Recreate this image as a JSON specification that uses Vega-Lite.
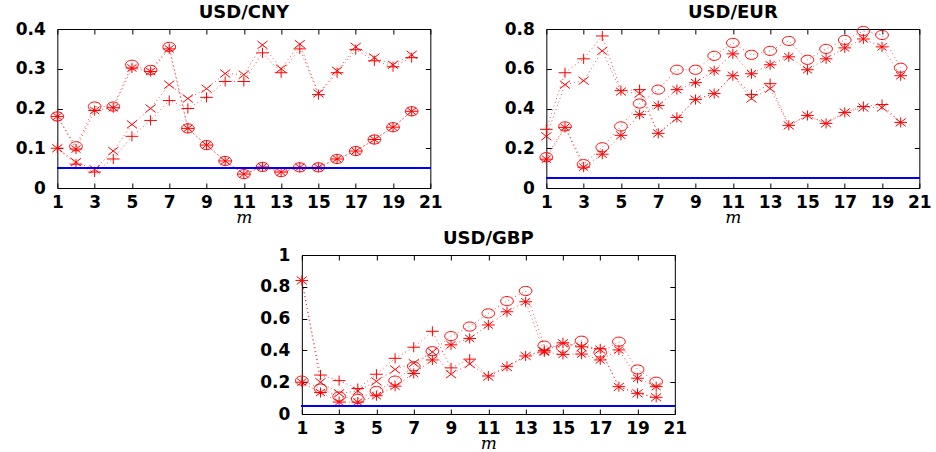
{
"$schema":"https://vega.github.io/schema/vega-lite/v6.json",
"background":"white",
"padding":{"left":14,"top":3,"right":0,"bottom":0},
"data":{"values":[
{"p":"CNY","s":"o","m":1,"v":0.18},{"p":"CNY","s":"o","m":2,"v":0.105},{"p":"CNY","s":"o","m":3,"v":0.205},{"p":"CNY","s":"o","m":4,"v":0.205},{"p":"CNY","s":"o","m":5,"v":0.31},{"p":"CNY","s":"o","m":6,"v":0.297},{"p":"CNY","s":"o","m":7,"v":0.355},{"p":"CNY","s":"o","m":8,"v":0.15},{"p":"CNY","s":"o","m":9,"v":0.108},{"p":"CNY","s":"o","m":10,"v":0.068},{"p":"CNY","s":"o","m":11,"v":0.035},{"p":"CNY","s":"o","m":12,"v":0.053},{"p":"CNY","s":"o","m":13,"v":0.04},{"p":"CNY","s":"o","m":14,"v":0.052},{"p":"CNY","s":"o","m":15,"v":0.052},{"p":"CNY","s":"o","m":16,"v":0.073},{"p":"CNY","s":"o","m":17,"v":0.093},{"p":"CNY","s":"o","m":18,"v":0.122},{"p":"CNY","s":"o","m":19,"v":0.153},{"p":"CNY","s":"o","m":20,"v":0.193},
{"p":"CNY","s":"ast","m":1,"v":0.18},{"p":"CNY","s":"ast","m":2,"v":0.098},{"p":"CNY","s":"ast","m":3,"v":0.195},{"p":"CNY","s":"ast","m":4,"v":0.202},{"p":"CNY","s":"ast","m":5,"v":0.302},{"p":"CNY","s":"ast","m":6,"v":0.293},{"p":"CNY","s":"ast","m":7,"v":0.35},{"p":"CNY","s":"ast","m":8,"v":0.15},{"p":"CNY","s":"ast","m":9,"v":0.108},{"p":"CNY","s":"ast","m":10,"v":0.068},{"p":"CNY","s":"ast","m":11,"v":0.035},{"p":"CNY","s":"ast","m":12,"v":0.053},{"p":"CNY","s":"ast","m":13,"v":0.04},{"p":"CNY","s":"ast","m":14,"v":0.052},{"p":"CNY","s":"ast","m":15,"v":0.052},{"p":"CNY","s":"ast","m":16,"v":0.073},{"p":"CNY","s":"ast","m":17,"v":0.093},{"p":"CNY","s":"ast","m":18,"v":0.122},{"p":"CNY","s":"ast","m":19,"v":0.153},{"p":"CNY","s":"ast","m":20,"v":0.193},
{"p":"CNY","s":"x","m":1,"v":0.1},{"p":"CNY","s":"x","m":2,"v":0.065},{"p":"CNY","s":"x","m":3,"v":0.047},{"p":"CNY","s":"x","m":4,"v":0.093},{"p":"CNY","s":"x","m":5,"v":0.16},{"p":"CNY","s":"x","m":6,"v":0.2},{"p":"CNY","s":"x","m":7,"v":0.26},{"p":"CNY","s":"x","m":8,"v":0.225},{"p":"CNY","s":"x","m":9,"v":0.25},{"p":"CNY","s":"x","m":10,"v":0.288},{"p":"CNY","s":"x","m":11,"v":0.285},{"p":"CNY","s":"x","m":12,"v":0.36},{"p":"CNY","s":"x","m":13,"v":0.3},{"p":"CNY","s":"x","m":14,"v":0.362},{"p":"CNY","s":"x","m":15,"v":0.238},{"p":"CNY","s":"x","m":16,"v":0.295},{"p":"CNY","s":"x","m":17,"v":0.355},{"p":"CNY","s":"x","m":18,"v":0.328},{"p":"CNY","s":"x","m":19,"v":0.31},{"p":"CNY","s":"x","m":20,"v":0.335},
{"p":"CNY","s":"plus","m":1,"v":0.1},{"p":"CNY","s":"plus","m":2,"v":0.06},{"p":"CNY","s":"plus","m":3,"v":0.04},{"p":"CNY","s":"plus","m":4,"v":0.073},{"p":"CNY","s":"plus","m":5,"v":0.13},{"p":"CNY","s":"plus","m":6,"v":0.17},{"p":"CNY","s":"plus","m":7,"v":0.22},{"p":"CNY","s":"plus","m":8,"v":0.2},{"p":"CNY","s":"plus","m":9,"v":0.228},{"p":"CNY","s":"plus","m":10,"v":0.268},{"p":"CNY","s":"plus","m":11,"v":0.268},{"p":"CNY","s":"plus","m":12,"v":0.34},{"p":"CNY","s":"plus","m":13,"v":0.29},{"p":"CNY","s":"plus","m":14,"v":0.35},{"p":"CNY","s":"plus","m":15,"v":0.235},{"p":"CNY","s":"plus","m":16,"v":0.29},{"p":"CNY","s":"plus","m":17,"v":0.348},{"p":"CNY","s":"plus","m":18,"v":0.32},{"p":"CNY","s":"plus","m":19,"v":0.305},{"p":"CNY","s":"plus","m":20,"v":0.328},
{"p":"EUR","s":"o","m":1,"v":0.155},{"p":"EUR","s":"o","m":2,"v":0.31},{"p":"EUR","s":"o","m":3,"v":0.12},{"p":"EUR","s":"o","m":4,"v":0.205},{"p":"EUR","s":"o","m":5,"v":0.31},{"p":"EUR","s":"o","m":6,"v":0.425},{"p":"EUR","s":"o","m":7,"v":0.495},{"p":"EUR","s":"o","m":8,"v":0.595},{"p":"EUR","s":"o","m":9,"v":0.595},{"p":"EUR","s":"o","m":10,"v":0.665},{"p":"EUR","s":"o","m":11,"v":0.73},{"p":"EUR","s":"o","m":12,"v":0.67},{"p":"EUR","s":"o","m":13,"v":0.69},{"p":"EUR","s":"o","m":14,"v":0.74},{"p":"EUR","s":"o","m":15,"v":0.645},{"p":"EUR","s":"o","m":16,"v":0.7},{"p":"EUR","s":"o","m":17,"v":0.745},{"p":"EUR","s":"o","m":18,"v":0.79},{"p":"EUR","s":"o","m":19,"v":0.77},{"p":"EUR","s":"o","m":20,"v":0.605},
{"p":"EUR","s":"ast","m":1,"v":0.145},{"p":"EUR","s":"ast","m":2,"v":0.305},{"p":"EUR","s":"ast","m":3,"v":0.105},{"p":"EUR","s":"ast","m":4,"v":0.17},{"p":"EUR","s":"ast","m":5,"v":0.265},{"p":"EUR","s":"ast","m":6,"v":0.37},{"p":"EUR","s":"ast","m":7,"v":0.415},{"p":"EUR","s":"ast","m":8,"v":0.495},{"p":"EUR","s":"ast","m":9,"v":0.53},{"p":"EUR","s":"ast","m":10,"v":0.59},{"p":"EUR","s":"ast","m":11,"v":0.675},{"p":"EUR","s":"ast","m":12,"v":0.575},{"p":"EUR","s":"ast","m":13,"v":0.62},{"p":"EUR","s":"ast","m":14,"v":0.66},{"p":"EUR","s":"ast","m":15,"v":0.595},{"p":"EUR","s":"ast","m":16,"v":0.65},{"p":"EUR","s":"ast","m":17,"v":0.705},{"p":"EUR","s":"ast","m":18,"v":0.75},{"p":"EUR","s":"ast","m":19,"v":0.71},{"p":"EUR","s":"ast","m":20,"v":0.565},
{"p":"EUR","s":"x","m":1,"v":0.26},{"p":"EUR","s":"x","m":2,"v":0.52},{"p":"EUR","s":"x","m":3,"v":0.54},{"p":"EUR","s":"x","m":4,"v":0.69},{"p":"EUR","s":"x","m":5,"v":0.485},{"p":"EUR","s":"x","m":6,"v":0.475},{"p":"EUR","s":"x","m":7,"v":0.275},{"p":"EUR","s":"x","m":8,"v":0.35},{"p":"EUR","s":"x","m":9,"v":0.445},{"p":"EUR","s":"x","m":10,"v":0.475},{"p":"EUR","s":"x","m":11,"v":0.565},{"p":"EUR","s":"x","m":12,"v":0.45},{"p":"EUR","s":"x","m":13,"v":0.5},{"p":"EUR","s":"x","m":14,"v":0.315},{"p":"EUR","s":"x","m":15,"v":0.365},{"p":"EUR","s":"x","m":16,"v":0.325},{"p":"EUR","s":"x","m":17,"v":0.38},{"p":"EUR","s":"x","m":18,"v":0.405},{"p":"EUR","s":"x","m":19,"v":0.405},{"p":"EUR","s":"x","m":20,"v":0.33},
{"p":"EUR","s":"plus","m":1,"v":0.295},{"p":"EUR","s":"plus","m":2,"v":0.58},{"p":"EUR","s":"plus","m":3,"v":0.65},{"p":"EUR","s":"plus","m":4,"v":0.765},{"p":"EUR","s":"plus","m":5,"v":0.49},{"p":"EUR","s":"plus","m":6,"v":0.495},{"p":"EUR","s":"plus","m":7,"v":0.275},{"p":"EUR","s":"plus","m":8,"v":0.355},{"p":"EUR","s":"plus","m":9,"v":0.445},{"p":"EUR","s":"plus","m":10,"v":0.475},{"p":"EUR","s":"plus","m":11,"v":0.565},{"p":"EUR","s":"plus","m":12,"v":0.47},{"p":"EUR","s":"plus","m":13,"v":0.525},{"p":"EUR","s":"plus","m":14,"v":0.315},{"p":"EUR","s":"plus","m":15,"v":0.365},{"p":"EUR","s":"plus","m":16,"v":0.325},{"p":"EUR","s":"plus","m":17,"v":0.38},{"p":"EUR","s":"plus","m":18,"v":0.41},{"p":"EUR","s":"plus","m":19,"v":0.42},{"p":"EUR","s":"plus","m":20,"v":0.33},
{"p":"GBP","s":"o","m":1,"v":0.21},{"p":"GBP","s":"o","m":2,"v":0.16},{"p":"GBP","s":"o","m":3,"v":0.11},{"p":"GBP","s":"o","m":4,"v":0.095},{"p":"GBP","s":"o","m":5,"v":0.145},{"p":"GBP","s":"o","m":6,"v":0.21},{"p":"GBP","s":"o","m":7,"v":0.3},{"p":"GBP","s":"o","m":8,"v":0.395},{"p":"GBP","s":"o","m":9,"v":0.49},{"p":"GBP","s":"o","m":10,"v":0.55},{"p":"GBP","s":"o","m":11,"v":0.633},{"p":"GBP","s":"o","m":12,"v":0.71},{"p":"GBP","s":"o","m":13,"v":0.774},{"p":"GBP","s":"o","m":14,"v":0.43},{"p":"GBP","s":"o","m":15,"v":0.417},{"p":"GBP","s":"o","m":16,"v":0.461},{"p":"GBP","s":"o","m":17,"v":0.386},{"p":"GBP","s":"o","m":18,"v":0.455},{"p":"GBP","s":"o","m":19,"v":0.28},{"p":"GBP","s":"o","m":20,"v":0.203},
{"p":"GBP","s":"ast","m":1,"v":0.2},{"p":"GBP","s":"ast","m":2,"v":0.135},{"p":"GBP","s":"ast","m":3,"v":0.075},{"p":"GBP","s":"ast","m":4,"v":0.075},{"p":"GBP","s":"ast","m":5,"v":0.115},{"p":"GBP","s":"ast","m":6,"v":0.175},{"p":"GBP","s":"ast","m":7,"v":0.255},{"p":"GBP","s":"ast","m":8,"v":0.34},{"p":"GBP","s":"ast","m":9,"v":0.435},{"p":"GBP","s":"ast","m":10,"v":0.475},{"p":"GBP","s":"ast","m":11,"v":0.56},{"p":"GBP","s":"ast","m":12,"v":0.643},{"p":"GBP","s":"ast","m":13,"v":0.706},{"p":"GBP","s":"ast","m":14,"v":0.39},{"p":"GBP","s":"ast","m":15,"v":0.375},{"p":"GBP","s":"ast","m":16,"v":0.377},{"p":"GBP","s":"ast","m":17,"v":0.34},{"p":"GBP","s":"ast","m":18,"v":0.403},{"p":"GBP","s":"ast","m":19,"v":0.225},{"p":"GBP","s":"ast","m":20,"v":0.172},
{"p":"GBP","s":"x","m":1,"v":0.84},{"p":"GBP","s":"x","m":2,"v":0.2},{"p":"GBP","s":"x","m":3,"v":0.13},{"p":"GBP","s":"x","m":4,"v":0.145},{"p":"GBP","s":"x","m":5,"v":0.205},{"p":"GBP","s":"x","m":6,"v":0.28},{"p":"GBP","s":"x","m":7,"v":0.32},{"p":"GBP","s":"x","m":8,"v":0.39},{"p":"GBP","s":"x","m":9,"v":0.25},{"p":"GBP","s":"x","m":10,"v":0.315},{"p":"GBP","s":"x","m":11,"v":0.235},{"p":"GBP","s":"x","m":12,"v":0.295},{"p":"GBP","s":"x","m":13,"v":0.365},{"p":"GBP","s":"x","m":14,"v":0.395},{"p":"GBP","s":"x","m":15,"v":0.445},{"p":"GBP","s":"x","m":16,"v":0.42},{"p":"GBP","s":"x","m":17,"v":0.405},{"p":"GBP","s":"x","m":18,"v":0.17},{"p":"GBP","s":"x","m":19,"v":0.13},{"p":"GBP","s":"x","m":20,"v":0.105},
{"p":"GBP","s":"plus","m":1,"v":0.84},{"p":"GBP","s":"plus","m":2,"v":0.245},{"p":"GBP","s":"plus","m":3,"v":0.21},{"p":"GBP","s":"plus","m":4,"v":0.16},{"p":"GBP","s":"plus","m":5,"v":0.25},{"p":"GBP","s":"plus","m":6,"v":0.35},{"p":"GBP","s":"plus","m":7,"v":0.42},{"p":"GBP","s":"plus","m":8,"v":0.52},{"p":"GBP","s":"plus","m":9,"v":0.29},{"p":"GBP","s":"plus","m":10,"v":0.345},{"p":"GBP","s":"plus","m":11,"v":0.239},{"p":"GBP","s":"plus","m":12,"v":0.3},{"p":"GBP","s":"plus","m":13,"v":0.365},{"p":"GBP","s":"plus","m":14,"v":0.4},{"p":"GBP","s":"plus","m":15,"v":0.448},{"p":"GBP","s":"plus","m":16,"v":0.423},{"p":"GBP","s":"plus","m":17,"v":0.41},{"p":"GBP","s":"plus","m":18,"v":0.172},{"p":"GBP","s":"plus","m":19,"v":0.13},{"p":"GBP","s":"plus","m":20,"v":0.105}
]},
"spacing":3,
"center":true,
"vconcat":[
{"hconcat":[
{"width":373,"height":159,"title":"USD/CNY","transform":[{"filter":"datum.p=='CNY'"}],
 "layer":[
  {"mark":{"type":"line","stroke":"red","strokeWidth":1,"strokeDash":[1,3],"opacity":0.7},
   "encoding":{"x":{"field":"m","type":"quantitative","scale":{"domain":[1,21],"nice":false,"zero":false},"axis":{"orient":"bottom","values":[1,3,5,7,9,11,13,15,17,19,21],"title":"m"}},
    "y":{"field":"v","type":"quantitative","scale":{"domain":[0,0.4],"nice":false},"axis":{"orient":"left","values":[0,0.1,0.2,0.3,0.4],"format":"~g","title":null}},
    "detail":{"field":"s"}}},
  {"mark":{"type":"point","filled":false,"stroke":"red","strokeWidth":1,"opacity":1},
   "encoding":{"x":{"field":"m","type":"quantitative","axis":{"orient":"top","values":[1,3,5,7,9,11,13,15,17,19,21],"labels":false,"title":null}},
    "y":{"field":"v","type":"quantitative","axis":{"orient":"right","values":[0,0.1,0.2,0.3,0.4],"labels":false,"title":null}},
    "shape":{"field":"s","legend":null,"scale":{"domain":["o","ast","x","plus"],"range":["M-1,0A1,0.72 0 1,1 1,0A1,0.72 0 1,1 -1,0Z","M-1,0L1,0M0,-0.8L0,0.8M-0.72,-0.56L0.72,0.56M-0.72,0.56L0.72,-0.56","M-0.8,-0.62L0.8,0.62M-0.8,0.62L0.8,-0.62","M-1,0L1,0M0,-0.8L0,0.8"]}},
    "size":{"value":160}}},
  {"mark":{"type":"rule","color":"blue","strokeWidth":1},"encoding":{"y":{"datum":0.05,"type":"quantitative","axis":null}}}
 ],
 "resolve":{"axis":{"x":"independent","y":"independent"}}},
{"width":373,"height":159,"title":"USD/EUR","transform":[{"filter":"datum.p=='EUR'"}],
 "layer":[
  {"mark":{"type":"line","stroke":"red","strokeWidth":1,"strokeDash":[1,3],"opacity":0.7},
   "encoding":{"x":{"field":"m","type":"quantitative","scale":{"domain":[1,21],"nice":false,"zero":false},"axis":{"orient":"bottom","values":[1,3,5,7,9,11,13,15,17,19,21],"title":"m"}},
    "y":{"field":"v","type":"quantitative","scale":{"domain":[0,0.8],"nice":false},"axis":{"orient":"left","values":[0,0.2,0.4,0.6,0.8],"format":"~g","title":null}},
    "detail":{"field":"s"}}},
  {"mark":{"type":"point","filled":false,"stroke":"red","strokeWidth":1,"opacity":1},
   "encoding":{"x":{"field":"m","type":"quantitative","axis":{"orient":"top","values":[1,3,5,7,9,11,13,15,17,19,21],"labels":false,"title":null}},
    "y":{"field":"v","type":"quantitative","axis":{"orient":"right","values":[0,0.2,0.4,0.6,0.8],"labels":false,"title":null}},
    "shape":{"field":"s","legend":null,"scale":{"domain":["o","ast","x","plus"],"range":["M-1,0A1,0.72 0 1,1 1,0A1,0.72 0 1,1 -1,0Z","M-1,0L1,0M0,-0.8L0,0.8M-0.72,-0.56L0.72,0.56M-0.72,0.56L0.72,-0.56","M-0.8,-0.62L0.8,0.62M-0.8,0.62L0.8,-0.62","M-1,0L1,0M0,-0.8L0,0.8"]}},
    "size":{"value":160}}},
  {"mark":{"type":"rule","color":"blue","strokeWidth":1},"encoding":{"y":{"datum":0.05,"type":"quantitative","axis":null}}}
 ],
 "resolve":{"axis":{"x":"independent","y":"independent"}}}
],"spacing":60},
{"width":373,"height":159,"title":"USD/GBP","transform":[{"filter":"datum.p=='GBP'"}],
 "layer":[
  {"mark":{"type":"line","stroke":"red","strokeWidth":1,"strokeDash":[1,3],"opacity":0.7},
   "encoding":{"x":{"field":"m","type":"quantitative","scale":{"domain":[1,21],"nice":false,"zero":false},"axis":{"orient":"bottom","values":[1,3,5,7,9,11,13,15,17,19,21],"title":"m"}},
    "y":{"field":"v","type":"quantitative","scale":{"domain":[0,1],"nice":false},"axis":{"orient":"left","values":[0,0.2,0.4,0.6,0.8,1],"format":"~g","title":null}},
    "detail":{"field":"s"}}},
  {"mark":{"type":"point","filled":false,"stroke":"red","strokeWidth":1,"opacity":1},
   "encoding":{"x":{"field":"m","type":"quantitative","axis":{"orient":"top","values":[1,3,5,7,9,11,13,15,17,19,21],"labels":false,"title":null}},
    "y":{"field":"v","type":"quantitative","axis":{"orient":"right","values":[0,0.2,0.4,0.6,0.8,1],"labels":false,"title":null}},
    "shape":{"field":"s","legend":null,"scale":{"domain":["o","ast","x","plus"],"range":["M-1,0A1,0.72 0 1,1 1,0A1,0.72 0 1,1 -1,0Z","M-1,0L1,0M0,-0.8L0,0.8M-0.72,-0.56L0.72,0.56M-0.72,0.56L0.72,-0.56","M-0.8,-0.62L0.8,0.62M-0.8,0.62L0.8,-0.62","M-1,0L1,0M0,-0.8L0,0.8"]}},
    "size":{"value":160}}},
  {"mark":{"type":"rule","color":"blue","strokeWidth":1},"encoding":{"y":{"datum":0.05,"type":"quantitative","axis":null}}}
 ],
 "resolve":{"axis":{"x":"independent","y":"independent"}}}
],
"config":{
 "view":{"stroke":"black","strokeWidth":1},
 "axis":{"domain":false,"grid":false,"tickColor":"black","tickSize":-5,"labelFlush":false,"labelOverlap":false,"labelColor":"black","labelFont":"DejaVu Sans","labelFontWeight":"bold","labelFontSize":17,"titleFont":"DejaVu Serif","titleFontStyle":"italic","titleFontWeight":"normal","titleFontSize":17,"titleColor":"black","titlePadding":-1},
 "axisX":{"labelPadding":11},
 "axisY":{"labelPadding":17},
 "title":{"font":"DejaVu Sans","fontSize":18,"fontWeight":"bold","color":"black","offset":-2}
}
}
